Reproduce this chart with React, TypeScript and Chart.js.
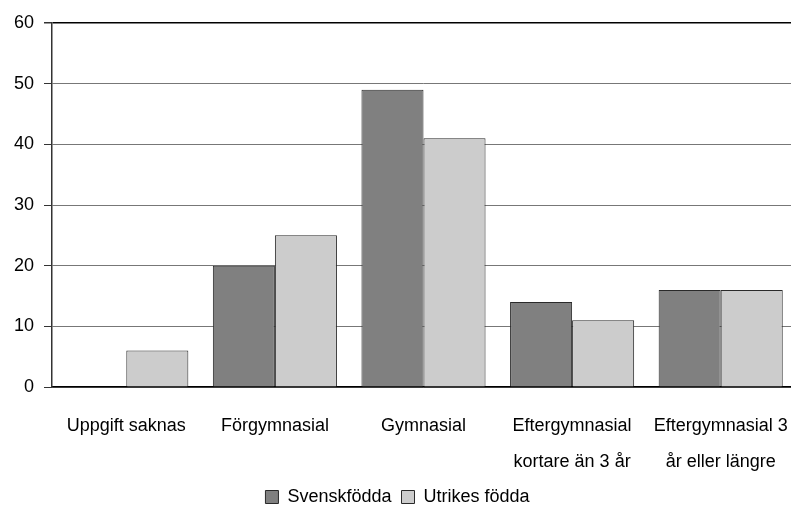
import React, { useEffect, useRef } from "react";
import { Chart, registerables } from "chart.js";

Chart.register(...registerables);

const categories: (string | string[])[] = [
  "Uppgift saknas",
  "Förgymnasial",
  "Gymnasial",
  ["Eftergymnasial", "kortare än 3 år"],
  ["Eftergymnasial 3", "år eller längre"],
];
const svenskfodda = [0, 20, 49, 14, 16];
const utrikesFodda = [6, 25, 41, 11, 16];
const yTicks = [0, 10, 20, 30, 40, 50, 60];

const FONT = "'Liberation Sans', Arial, sans-serif";

export default function App() {
  const ref = useRef<HTMLCanvasElement | null>(null);
  useEffect(() => {
    if (!ref.current) return;
    const chart = new Chart(ref.current, {
      type: "bar",
      data: {
        labels: categories,
        datasets: [
          {
            label: "Svenskfödda",
            data: svenskfodda,
            backgroundColor: "#808080",
            borderColor: "#2a2a2a",
            borderWidth: 1,
          },
          {
            label: "Utrikes födda",
            data: utrikesFodda,
            backgroundColor: "#cccccc",
            borderColor: "#2a2a2a",
            borderWidth: 1,
          },
        ],
      },
      options: {
        animation: false,
        responsive: false,
        maintainAspectRatio: false,
        layout: { padding: { top: 23, right: 0, left: 0, bottom: -3 } },
        datasets: {
          bar: { categoryPercentage: 0.835, barPercentage: 1.0 },
        },
        plugins: {
          legend: {
            position: "bottom",
            labels: {
              font: { family: FONT, size: 18 },
              color: "#000",
              boxWidth: 13,
              boxHeight: 13,
              padding: 10,
            },
          },
          tooltip: { enabled: false },
        },
        scales: {
          x: {
            grid: { display: false, drawTicks: false },
            border: { display: true, color: "#000", width: 1.5 },
            ticks: {
              color: "#000",
              font: { family: FONT, size: 18, lineHeight: 1.983 },
              padding: 21,
              maxRotation: 0,
              autoSkip: false,
            },
            afterFit: (scale: any) => {
              scale.height = 91;
              scale.paddingLeft = 0;
              scale.paddingRight = 0;
            },
          },
          y: {
            min: 0,
            max: 60,
            afterBuildTicks: (scale: any) => {
              scale.ticks = yTicks.map((v) => ({ value: v }));
            },
            grid: {
              color: (ctx: any) => (ctx.tick && ctx.tick.value === 60 ? "#000" : "#777"),
              lineWidth: (ctx: any) => (ctx.tick && ctx.tick.value === 60 ? 1.5 : 1),
              tickColor: "#333",
              tickLength: 8,
              drawTicks: true,
            },
            border: { display: true, color: "#333", width: 1.5 },
            ticks: {
              color: "#000",
              font: { family: FONT, size: 18 },
              padding: 10,
            },
            afterFit: (scale: any) => {
              scale.width = 52;
            },
          },
        },
      },
    });
    return () => chart.destroy();
  }, []);
  return (
    <div style={{ position: "absolute", left: 0, top: 0, width: 791, height: 513, overflow: "hidden" }}>
      <canvas ref={ref} width={795} height={513} />
    </div>
  );
}
